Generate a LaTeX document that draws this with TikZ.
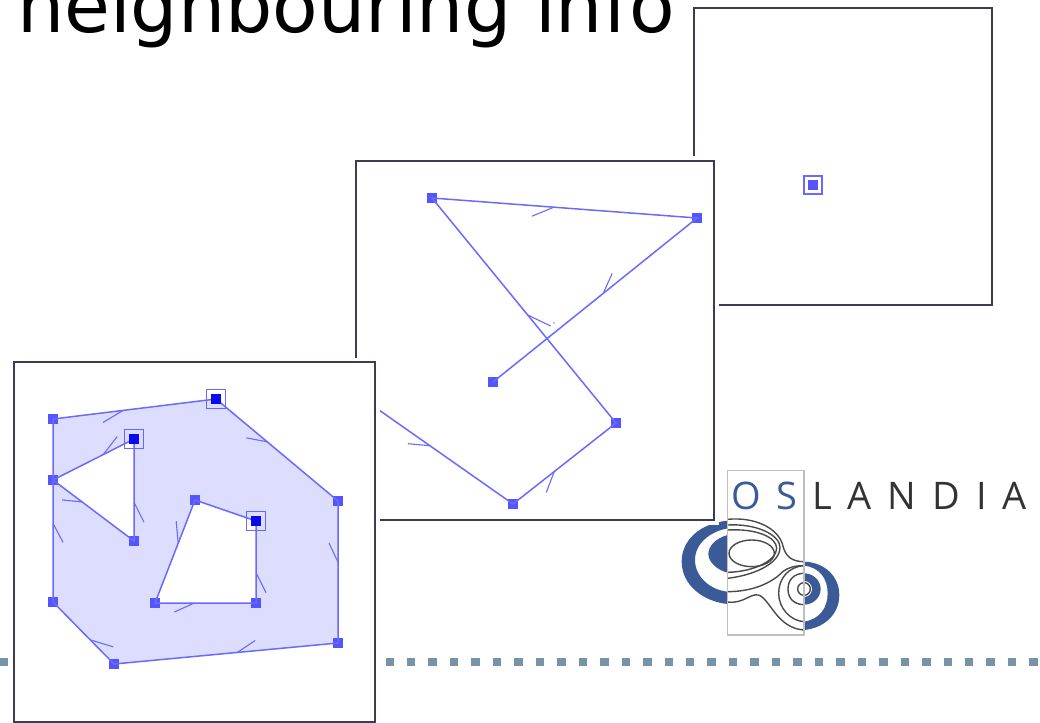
\documentclass[tikz,border=0pt]{standalone}
\usepackage{xcolor}
\usepackage{fontspec}
\usepackage{tikz}
\usetikzlibrary{calc}
\setmainfont{DejaVu Sans}
\newfontfamily\logofont[LetterSpace=42]{Open Sans}
\definecolor{framecol}{HTML}{3C3C52}
\definecolor{edgecol}{HTML}{6A6AFF}
\definecolor{vtxcol}{HTML}{5555FF}
\definecolor{vtxdark}{HTML}{0A0AF0}
\definecolor{dotcol}{HTML}{7793A8}
\definecolor{logoblue}{HTML}{3A5A98}
\definecolor{logoline}{HTML}{4A4A4A}

\begin{document}
\begin{tikzpicture}[
    x=1pt, y=-1pt,
    framebox/.style={draw=framecol, fill=white, line width=2.2pt, anchor=north west, inner sep=0pt, outer sep=0pt,
        preaction={draw=white, line width=9pt}},
    vtx/.style={fill=vtxcol, minimum size=10pt, inner sep=0pt},
    vtxfirst/.style={fill=vtxdark, minimum size=10pt, inner sep=0pt},
    ringbox/.style={draw=edgecol, line width=1.3pt, minimum size=19.5pt, inner sep=0pt},
    edgeline/.style={draw=edgecol, line width=1.5pt},
    barb/.style={draw=edgecol, line width=1.1pt},
    dotbox/.style={fill=dotcol, minimum size=8.5pt, inner sep=0pt},
    logoring/.style={draw=logoline, line width=1.4pt},
    logoword/.style={anchor=base west, inner sep=0pt, font=\logofont\fontsize{38}{38}\selectfont}
]
\useasboundingbox (0,0) rectangle (1040,722);

% title and dotted rule
\node[anchor=base west, inner sep=0pt, font=\fontsize{74.5}{74.5}\selectfont] (title) at (17,33) {neighbouring info};
\foreach \i in {0,...,48}
    \node[dotbox] (dot\i) at (3.5+21.46*\i,662) {};

% logo
\begin{scope}[shift={(660,460)}, x=0.3333pt, y=-0.3333pt]
    \fill[logoblue] (203,182) .. controls (120,190) and (65,240) .. (65,305) .. controls (65,375) and (130,425) .. (203,432)
        -- (203,395) .. controls (150,390) and (105,350) .. (105,300) .. controls (105,250) and (150,215) .. (203,205) -- cycle;
    \fill[logoblue] (203,225) .. controls (165,235) and (145,260) .. (145,282) .. controls (145,305) and (170,330) .. (203,338) -- cycle;
    \fill[logoblue] (432,305) .. controls (495,307) and (538,350) .. (538,405) .. controls (538,465) and (490,505) .. (432,510)
        -- (432,485) .. controls (478,478) and (503,445) .. (503,400) .. controls (503,355) and (478,322) .. (432,317) -- cycle;
    \fill[logoblue] (432,340) arc[start angle=-90, end angle=90, x radius=50, y radius=47] -- cycle;
    \fill[white] (432,387) circle[radius=24];
    \draw[logoring] (432,387) circle[radius=19];
    \draw[logoring] (432,340) .. controls (402,340) and (384,360) .. (384,387) .. controls (384,415) and (402,434) .. (432,434);
    \draw[logoring] (432,317) .. controls (386,320) and (356,355) .. (356,400) .. controls (356,445) and (392,483) .. (432,485);
    \draw[logoring] (203,178) .. controls (285,170) and (355,205) .. (368,255) .. controls (376,290) and (396,305) .. (432,305);
    \draw[logoring] (203,426) .. controls (250,432) and (270,400) .. (295,405) .. controls (330,415) and (350,505) .. (432,510);
    \draw[logoring] (203,195) .. controls (290,190) and (360,225) .. (360,262) .. controls (360,310) and (285,345) .. (203,355);
    \draw[logoring] (203,395) .. controls (290,395) and (345,360) .. (368,335) .. controls (385,322) and (405,317) .. (432,317);
    \draw[logoring] (203,210) .. controls (285,205) and (350,230) .. (350,265) .. controls (350,300) and (285,335) .. (203,337);
    \draw[logoring] (275,280) ellipse[x radius=68, y radius=40];
    \draw[gray!50, line width=1.3pt] (203,32) rectangle (432,525);
\end{scope}
\node[logoword, text=logoblue] (logoos) at (731,509) {OS};
\node[logoword, text=black!80] (logoland) at (812,509) {LANDIA};

% point frame
\node[framebox, minimum width=298pt, minimum height=297pt] (framepoint) at (694,8) {};
\node[ringbox, minimum size=18pt] (ptring) at (813,185) {};
\node[vtx] (pt) at (813,185) {};

% line frame
\node[framebox, minimum width=358pt, minimum height=359pt] (frameline) at (356,161) {};
\node[vtx] (l1) at (432,198) {};
\node[vtx] (l2) at (697,218) {};
\node[vtx] (l3) at (493,382) {};
\node[vtx] (l4) at (616,423) {};
\node[vtx] (l5) at (513,504) {};
\coordinate (l6) at (379,410);
\draw[edgeline] (l6) -- (l5.center) -- (l4.center) -- (l1.center) -- (l2.center) -- (l3.center);
\draw[barb] (l6) -- ++(0,-18);
\foreach \a/\b/\p/\dx/\dy in {l1/l2/.46/-22/9, l2/l3/.46/9/-20, l4/l1/.48/23/11, l5/l4/.40/-8/21, l6/l5/.38/-22/-2}
    \draw[barb] ($(\a)!\p!(\b)$) -- ++(\dx,\dy);
\fill[black] (554,323) circle[radius=0.7];

% polygon frame
\node[framebox, minimum width=361pt, minimum height=360pt] (framepoly) at (14,362) {};
\node[vtx] (a1) at (53,419) {};
\node[vtxfirst] (a2) at (216,399) {};
\node[vtx] (a3) at (338,501) {};
\node[vtx] (a4) at (338,643) {};
\node[vtx] (a5) at (114,664) {};
\node[vtx] (a6) at (53,602) {};
\node[vtx] (b1) at (53,480) {};
\node[vtxfirst] (b2) at (134,439) {};
\node[vtx] (b3) at (134,541) {};
\node[vtx] (c1) at (195,500) {};
\node[vtxfirst] (c2) at (256,521) {};
\node[vtx] (c3) at (256,603) {};
\node[vtx] (c4) at (155,603) {};
\node[ringbox] (a2ring) at (a2) {};
\node[ringbox] (b2ring) at (b2) {};
\node[ringbox] (c2ring) at (c2) {};
\fill[vtxcol, fill opacity=0.2, even odd rule]
    (a1.center) -- (a2.center) -- (a3.center) -- (a4.center) -- (a5.center) -- (a6.center) -- cycle
    (b1.center) -- (b2.center) -- (b3.center) -- cycle
    (c1.center) -- (c2.center) -- (c3.center) -- (c4.center) -- cycle;
\draw[edgeline] (a1.center) -- (a2.center) -- (a3.center) -- (a4.center) -- (a5.center) -- (a6.center) -- cycle;
\draw[edgeline] (b1.center) -- (b2.center) -- (b3.center) -- cycle;
\draw[edgeline] (c1.center) -- (c2.center) -- (c3.center) -- (c4.center) -- cycle;
\node[vtxfirst] at (a2) {};
\node[vtxfirst] at (b2) {};
\node[vtxfirst] at (c2) {};
\foreach \a/\b/\p/\dx/\dy in {a1/a2/.43/-20/12, a2/a3/.42/-21/-4, a3/a4/.43/-9/-19, a4/a5/.45/18/-12,
        a5/a6/.39/23/7, a6/a1/.43/10/19, b1/b2/.62/14/-18, b2/b3/.62/10/20, b3/b1/.64/-20/-2,
        c1/c4/.42/-2/-22, c3/c2/.37/10/20, c4/c3/.39/-20/9}
    \draw[barb] ($(\a)!\p!(\b)$) -- ++(\dx,\dy);
\end{tikzpicture}
\end{document}
